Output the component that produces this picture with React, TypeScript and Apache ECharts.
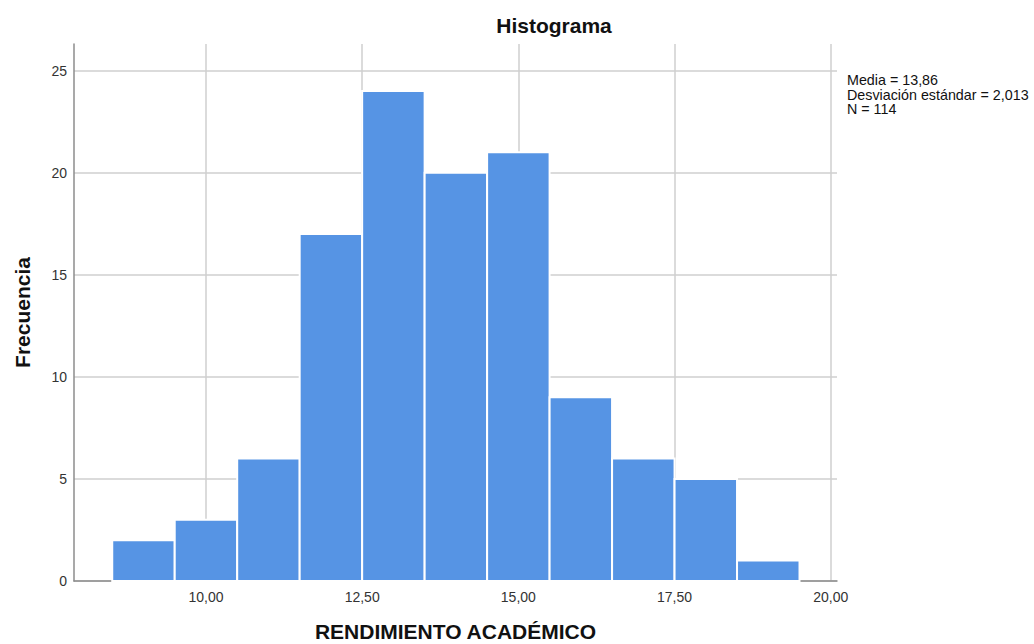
import React, { useEffect, useRef } from "react";
import * as echarts from "echarts";

const binStarts = [8.5, 9.5, 10.5, 11.5, 12.5, 13.5, 14.5, 15.5, 16.5, 17.5, 18.5];
const binWidth = 1;
const frequencies = [2, 3, 6, 17, 24, 20, 21, 9, 6, 5, 1];
const xTicks = [10, 12.5, 15, 17.5, 20];
const yTicks = [0, 5, 10, 15, 20, 25];
const statsLines = ["Media = 13,86", "Desviación estándar = 2,013", "N = 114"];

const FONT = "'Liberation Sans', Arial, sans-serif";

export default function App() {
  const ref = useRef<HTMLDivElement>(null);
  useEffect(() => {
    document.body.style.margin = "0";
    if (!ref.current) return;
    const chart = echarts.init(ref.current, undefined, { renderer: "svg" });
    const data = binStarts.map((s, i) => [s, s + binWidth, frequencies[i]]);
    chart.setOption({
      animation: false,
      backgroundColor: "#ffffff",
      textStyle: { fontFamily: FONT },
      title: {
        text: "Histograma",
        left: 554,
        top: 15,
        padding: 0,
        textAlign: "center",
        textStyle: { fontFamily: FONT, fontSize: 21, fontWeight: "bold", color: "#111" },
      },
      grid: {
        left: 74,
        right: 1034 - 837,
        top: 44,
        bottom: 644 - 581,
        outerBoundsMode: "none",
        containLabel: false,
      },
      xAxis: {
        type: "value",
        min: 7.888,
        max: 20.1,
        name: "RENDIMIENTO ACADÉMICO",
        nameLocation: "middle",
        nameGap: 41,
        nameTextStyle: {
          fontFamily: FONT,
          fontSize: 21,
          lineHeight: 18,
          fontWeight: "bold",
          color: "#111",
        },
        axisLine: { show: true, lineStyle: { color: "#8c8c8c", width: 1.5 } },
        axisTick: { show: false, customValues: xTicks },
        axisLabel: {
          customValues: xTicks,
          formatter: (v: number) => v.toFixed(2).replace(".", ","),
          fontFamily: FONT,
          fontSize: 14,
          color: "#333",
          margin: 9,
        },
        splitLine: { show: true, lineStyle: { color: "#cfcfcf", width: 1.5 } },
      },
      yAxis: {
        type: "value",
        min: 0,
        max: 26.3,
        name: "Frecuencia",
        nameLocation: "middle",
        nameGap: 41,
        nameTextStyle: { fontFamily: FONT, fontSize: 21, fontWeight: "bold", color: "#111" },
        axisLine: { show: true, lineStyle: { color: "#8c8c8c", width: 1.5 } },
        axisTick: { show: false, customValues: yTicks },
        axisLabel: {
          customValues: yTicks,
          fontFamily: FONT,
          fontSize: 14,
          color: "#333",
          margin: 7,
        },
        splitLine: { show: true, lineStyle: { color: "#cfcfcf", width: 1.5 } },
      },
      graphic: statsLines.map((t, i) => ({
        type: "text",
        left: 847,
        top: 73 + i * 14.5,
        style: { text: t, fontFamily: FONT, fontSize: 14.3, fill: "#111" },
      })),
      series: [
        {
          type: "custom",
          data,
          encode: { x: [0, 1], y: 2 },
          renderItem: (params: any, api: any) => {
            const p0 = api.coord([api.value(0), api.value(2)]);
            const p1 = api.coord([api.value(1), 0]);
            return {
              type: "rect",
              shape: { x: p0[0], y: p0[1], width: p1[0] - p0[0], height: p1[1] - p0[1] },
              style: { fill: "#5694e4", stroke: "#ffffff", lineWidth: 2 },
            };
          },
        },
      ],
    });
    return () => chart.dispose();
  }, []);
  return <div ref={ref} style={{ width: 1034, height: 644 }} />;
}
